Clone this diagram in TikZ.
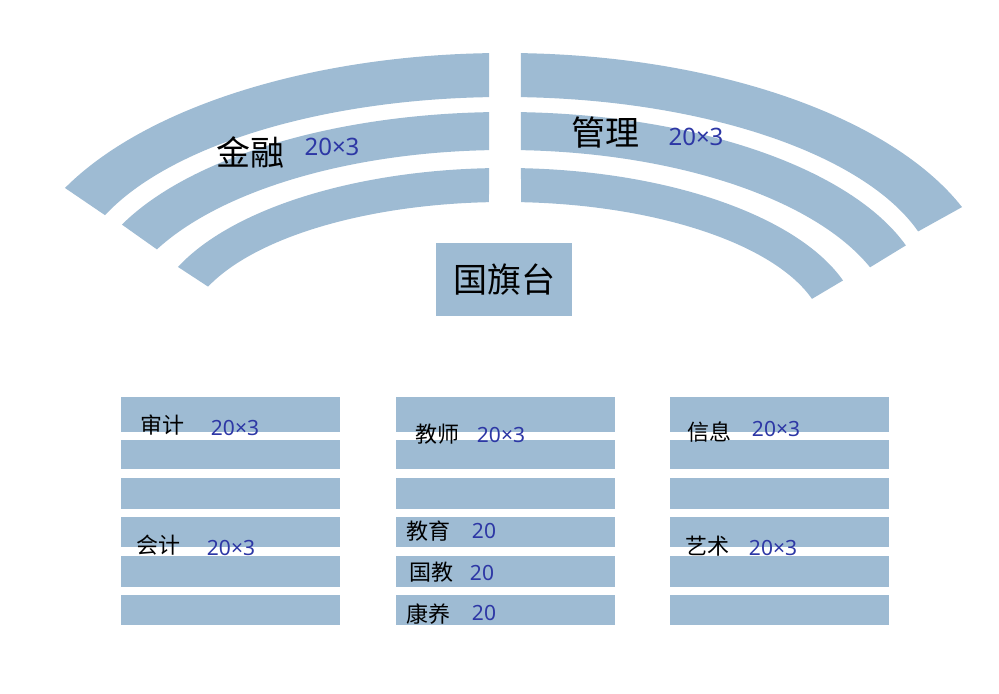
\documentclass[tikz,border=0pt]{standalone}
\usepackage{fontspec}
\newfontfamily\cjk{Noto Sans CJK SC}
\newfontfamily\digits{Noto Sans}
\usetikzlibrary{calc}
\definecolor{seatblue}{RGB}{158,187,211}
\definecolor{penblue}{RGB}{45,55,165}

\begin{document}
\begin{tikzpicture}[x=0.5pt, y=0.5pt,
  seat/.style={fill=seatblue},
  dept/.style={font=\cjk\fontsize{11pt}{11pt}\selectfont, inner sep=0},
  bigdept/.style={font=\cjk\fontsize{17pt}{17pt}\selectfont, inner sep=0},
  count/.style={font=\digits\fontsize{10.5pt}{10.5pt}\selectfont, text=penblue, inner sep=0},
  bigcount/.style={count, font=\digits\fontsize{12pt}{12pt}\selectfont}]
  \useasboundingbox (0,0) rectangle (999,694);

  % curved rows, left half
  \fill[seat] ($(505,400)+(91.87:490 and 241)$) arc[start angle=91.87, end angle=153.9, x radius=490, y radius=241]
    -- ($(505,407)+(157.8:432 and 190)$) arc[start angle=157.8, end angle=92.12, x radius=432, y radius=190] -- cycle;
  \fill[seat] ($(505,388)+(92.17:422 and 194)$) arc[start angle=92.17, end angle=155.2, x radius=422, y radius=194]
    -- ($(505,363)+(153.2:390 and 181)$) arc[start angle=153.2, end angle=92.35, x radius=390, y radius=181] -- cycle;
  \fill[seat] ($(505,364)+(92.58:355 and 162)$) arc[start angle=92.58, end angle=157.1, x radius=355, y radius=162]
    -- ($(505,357)+(158.1:320 and 135)$) arc[start angle=158.1, end angle=92.87, x radius=320, y radius=135] -- cycle;
  % curved rows, right half
  \fill[seat] ($(505,400)+(88.13:490 and 241)$) arc[start angle=88.13, end angle=21.14, x radius=490, y radius=241]
    -- ($(505,407)+(17.0:432 and 190)$) arc[start angle=17.0, end angle=87.88, x radius=432, y radius=190] -- cycle;
  \fill[seat] ($(505,388)+(87.83:422 and 194)$) arc[start angle=87.83, end angle=18.2, x radius=422, y radius=194]
    -- ($(505,363)+(20.6:390 and 181)$) arc[start angle=20.6, end angle=87.65, x radius=390, y radius=181] -- cycle;
  \fill[seat] ($(505,364)+(87.42:355 and 162)$) arc[start angle=87.42, end angle=17.8, x radius=355, y radius=162]
    -- ($(505,357)+(16.4:320 and 135)$) arc[start angle=16.4, end angle=87.13, x radius=320, y radius=135] -- cycle;

  % straight rows
  \foreach \xa in {121,396,670}
    \foreach \ya/\yb in {262/297,225/254,185/216,147/177,107/138,69/99}
      \fill[seat] (\xa,\ya) rectangle ({\xa+219},\yb);

  \node[seat, bigdept, minimum width=68pt, minimum height=36.5pt] (flag) at (504,414.5) {国旗台};

  \node[bigdept] (jinrong) at (250,542) {金融};
  \node[bigcount] (jinrong-n) at (332,547) {20×3};
  \node[bigdept] (guanli) at (605,561) {管理};
  \node[bigcount] (guanli-n) at (696,557) {20×3};

  \node[dept] (shenji) at (162,269) {审计};
  \node[count] (shenji-n) at (235,266) {20×3};
  \node[dept] (kuaiji) at (158,149) {会计};
  \node[count] (kuaiji-n) at (231,146) {20×3};

  \node[dept] (jiaoshi) at (437,260) {教师};
  \node[count] (jiaoshi-n) at (501,259) {20×3};
  \node[dept] (jiaoyu) at (428,163) {教育};
  \node[count] (jiaoyu-n) at (484,163) {20};
  \node[dept] (guojiao) at (431,122) {国教};
  \node[count] (guojiao-n) at (482,121) {20};
  \node[dept] (kangyang) at (428,80) {康养};
  \node[count] (kangyang-n) at (484,81) {20};

  \node[dept] (xinxi) at (709,262) {信息};
  \node[count] (xinxi-n) at (776,265) {20×3};
  \node[dept] (yishu) at (707,148) {艺术};
  \node[count] (yishu-n) at (773,146) {20×3};
\end{tikzpicture}
\end{document}
